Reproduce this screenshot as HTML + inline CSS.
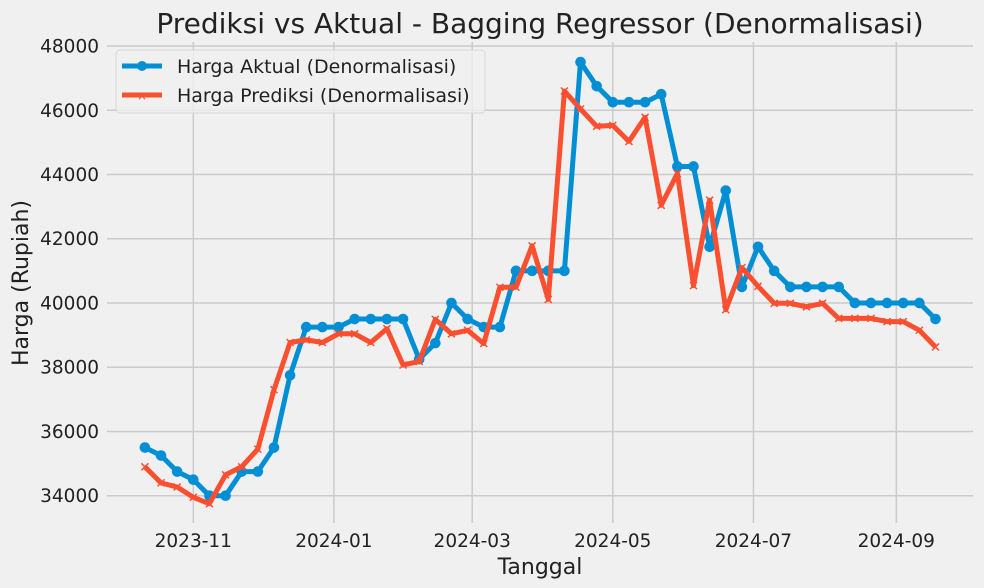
<!DOCTYPE html>
<html><head><meta charset="utf-8"><style>
html,body{margin:0;padding:0;background:#f0f0f0;}
svg{display:block;font-family:"DejaVu Sans","Liberation Sans",sans-serif;}
</style></head><body>
<svg id="chart" width="984" height="588" viewBox="0 0 984 588">
<rect x="0" y="0" width="984" height="588" fill="#f0f0f0"/>
<g id="grid"></g>
<g id="yticks"></g>
<g id="xticks"></g>
<g id="series"></g>
<text x="540" y="33" text-anchor="middle" font-size="28" fill="#222">Prediksi vs Aktual - Bagging Regressor (Denormalisasi)</text>
<text x="540" y="574" text-anchor="middle" font-size="22" fill="#222">Tanggal</text>
<text transform="translate(28,283) rotate(-90)" text-anchor="middle" font-size="22" fill="#222">Harga (Rupiah)</text>
<g>
<rect x="116" y="50" width="369" height="63" rx="4" fill="#f0f0f0" fill-opacity="0.8" stroke="#d8d8d8"/>
<g>
<line x1="122" y1="66" x2="162" y2="66" stroke="#008fd5" stroke-width="5"/>
<circle cx="142" cy="66" r="5" fill="#008fd5"/>
<text x="177" y="73" font-size="19" fill="#222">Harga Aktual (Denormalisasi)</text>
</g>
<g>
<line x1="122" y1="95" x2="162" y2="95" stroke="#fc4f30" stroke-width="5"/>
<text x="142" y="100" font-size="12" text-anchor="middle" fill="#fc4f30">×</text>
<text x="177" y="102" font-size="19" fill="#222">Harga Prediksi (Denormalisasi)</text>
</g>
</g>
</svg>
<script>
const startDate = "2023-10-11";
const actualValues = [35500,35250,34750,34500,34000,34000,34750,34750,35500,37750,39250,39250,39250,39500,39500,39500,39500,38250,38750,40000,39500,39250,39250,41000,41000,41000,41000,47500,46750,46250,46250,46250,46500,44250,44250,41750,43500,40500,41750,41000,40500,40500,40500,40500,40000,40000,40000,40000,40000,39500];
const predictedValues = [34900,34400,34270,33950,33750,34650,34900,35450,37300,38770,38850,38770,39040,39040,38770,39200,38070,38180,39490,39040,39150,38740,40490,40490,41780,40110,46600,46040,45500,45530,45030,45780,43040,44030,40540,43200,39790,41100,40520,39990,39990,39880,39990,39520,39520,39520,39420,39420,39150,38630];
const yTickValues = [34000,36000,38000,40000,42000,44000,46000,48000];
const xTickLabels = ["2023-11","2024-01","2024-03","2024-05","2024-07","2024-09"];

const NS = "http://www.w3.org/2000/svg";
const L = 107, R = 973, T = 42, B = 523;
const DAY = 86400000;
const ref = Date.UTC(2023,10,1);
const pxPerDay = 2.305, xRef = 193.3;
function xDate(d){ return xRef + (d - ref)/DAY*pxPerDay; }
function xOfLabel(s){ const p=s.split("-"); return xDate(Date.UTC(+p[0], +p[1]-1, 1)); }
const s0 = startDate.split("-");
const t0 = Date.UTC(+s0[0], +s0[1]-1, +s0[2]);
function xIdx(i){ return xDate(t0 + i*7*DAY); }
function y(v){ return 495.7 - (v-34000)*0.03212; }
function mk(tag, attrs, parent){ const e=document.createElementNS(NS,tag); for(const k in attrs) e.setAttribute(k, attrs[k]); parent.appendChild(e); return e; }

const grid = document.getElementById("grid");
const yt = document.getElementById("yticks");
const xt = document.getElementById("xticks");
const series = document.getElementById("series");

yTickValues.forEach(v=>{
  const g = mk("line",{x1:L,x2:R,y1:y(v),y2:y(v),stroke:"#cbcbcb","stroke-width":1.5},grid);
  
  
  const t = mk("text",{x:99,y:y(v)+6.5,"text-anchor":"end","font-size":18.5,fill:"#222"},yt);
  t.textContent = String(v);
  
  
});
xTickLabels.forEach(s=>{
  const x = xOfLabel(s);
  const g = mk("line",{x1:x,x2:x,y1:T,y2:B,stroke:"#cbcbcb","stroke-width":1.5},grid);
  
  
  const t = mk("text",{x:x,y:547,"text-anchor":"middle","font-size":18.5,fill:"#222"},xt);
  t.textContent = s;
  
  
});

function drawLine(vals, color, name){
  const g = mk("g",{},series);
  
  
  const pts = vals.map((v,i)=>xIdx(i).toFixed(1)+","+y(v).toFixed(1)).join(" ");
  const pl = mk("polyline",{points:pts,fill:"none",stroke:color,"stroke-width":5,"stroke-linejoin":"round","stroke-linecap":"butt"},g);
  
  
  return g;
}
const ga = drawLine(actualValues,"#008fd5","actual-series");
actualValues.forEach((v,i)=>{
  const c = mk("circle",{cx:xIdx(i),cy:y(v),r:5.3,fill:"#008fd5"},ga);
  
  
});
const gp = drawLine(predictedValues,"#fc4f30","predicted-series");
predictedValues.forEach((v,i)=>{
  const cx=xIdx(i), cy=y(v), d=3.5;
  const p = mk("path",{d:`M${cx-d},${cy-d}L${cx+d},${cy+d}M${cx-d},${cy+d}L${cx+d},${cy-d}`,stroke:"#fc4f30","stroke-width":1.5},gp);
  
  
});
</script>
</body></html>
